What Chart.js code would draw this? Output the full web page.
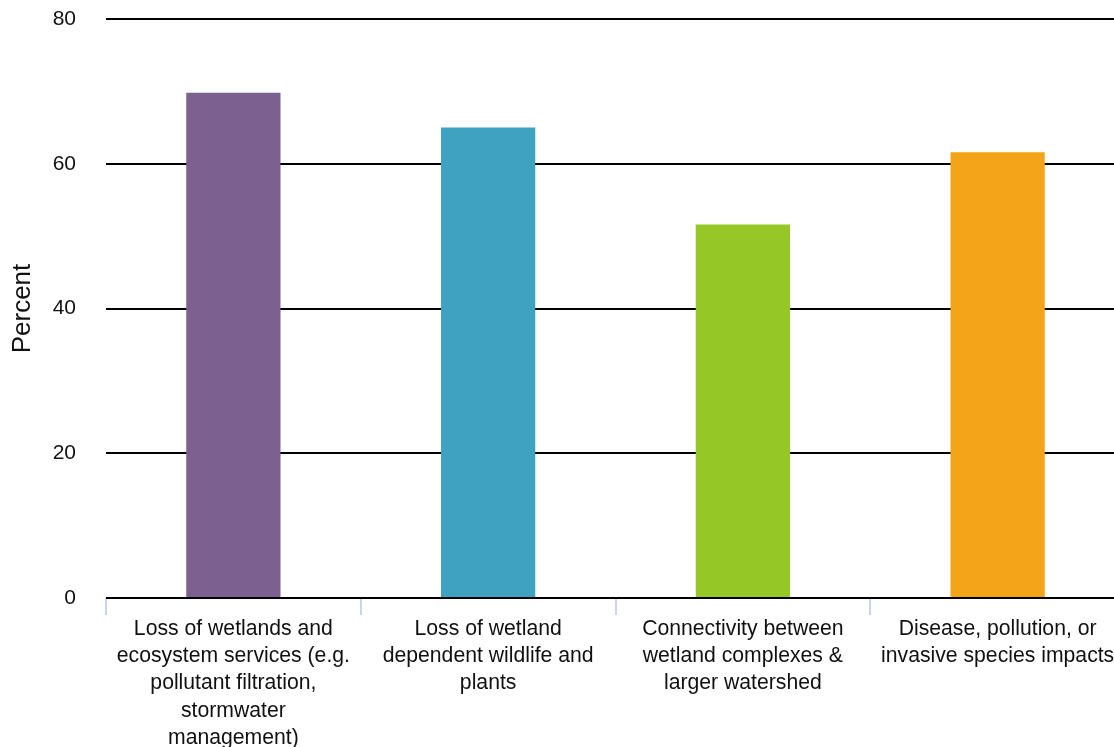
<!DOCTYPE html>
<html>
<head>
<meta charset="utf-8">
<script src="https://cdn.jsdelivr.net/npm/chart.js@4/dist/chart.umd.min.js"></script>
<style>
  html, body { margin: 0; padding: 0; background: #fff; overflow: hidden; }
  #wrap { width: 1114px; height: 747px; overflow: hidden; }
</style>
</head>
<body>
<div id="wrap"><canvas id="chart" width="1125" height="747"></canvas></div>
<script>
const categories = [
  ["Loss of wetlands and", "ecosystem services (e.g.", "pollutant filtration,", "stormwater", "management)"],
  ["Loss of wetland", "dependent wildlife and", "plants"],
  ["Connectivity between", "wetland complexes &", "larger watershed"],
  ["Disease, pollution, or", "invasive species impacts"]
];
const percentValues = [69.8, 65, 51.6, 61.6];
const barColors = ["#7C6190", "#3FA2C1", "#95C826", "#F4A418"];
const yTicks = [0, 20, 40, 60, 80];

const fontFamily = "'Liberation Sans', Arial, Helvetica, sans-serif";

new Chart(document.getElementById("chart"), {
  type: "bar",
  data: {
    labels: categories,
    datasets: [{
      data: percentValues,
      backgroundColor: barColors,
      borderWidth: 0,
      categoryPercentage: 1,
      barPercentage: 0.37
    }]
  },
  options: {
    responsive: false,
    animation: false,
    layout: { padding: 0 },
    plugins: {
      legend: { display: false },
      tooltip: { enabled: false }
    },
    scales: {
      x: {
        offset: true,
        afterFit: (scale) => {
          scale.height = 149;
          scale.paddingLeft = 0;
          scale.paddingRight = 0;
        },
        border: { display: false },
        grid: {
          offset: true,
          drawOnChartArea: false,
          drawTicks: true,
          tickLength: 17,
          color: "#c9d5ee",
          lineWidth: 2
        },
        ticks: {
          maxRotation: 0,
          autoSkip: false,
          padding: 0,
          color: "#111",
          font: { family: fontFamily, size: 21.2, lineHeight: 1.29 }
        }
      },
      y: {
        min: 0,
        max: 80,
        afterFit: (scale) => {
          scale.width = 106;
          scale.paddingTop = 19;
          scale.paddingBottom = 0;
        },
        afterBuildTicks: (scale) => { scale.ticks = yTicks.map(v => ({ value: v })); },
        border: { display: false },
        grid: {
          drawTicks: false,
          color: "#000",
          lineWidth: 2
        },
        ticks: {
          padding: 30,
          color: "#111",
          font: { family: fontFamily, size: 21 }
        },
        title: {
          display: true,
          text: "Percent",
          color: "#111",
          padding: { top: 7, bottom: 0 },
          font: { family: fontFamily, size: 26 }
        }
      }
    }
  }
});
</script>
</body>
</html>
